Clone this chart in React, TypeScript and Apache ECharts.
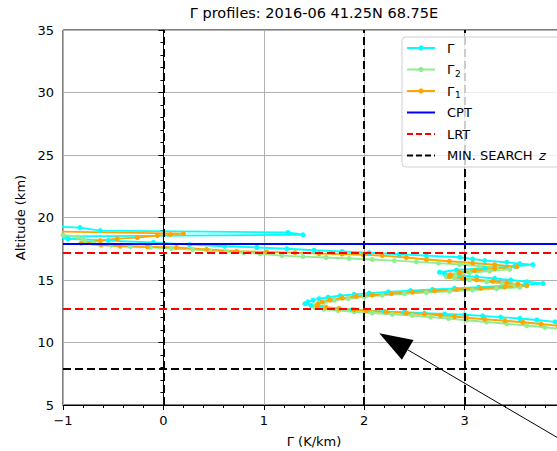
import React, { useEffect, useRef } from 'react';
import * as echarts from 'echarts';

const titleText = 'Γ profiles: 2016-06 41.25N 68.75E';
const FONT = "'DejaVu Sans', sans-serif";

// Lapse-rate profiles as [Γ (K/km), altitude (km)], ordered from top to bottom
const gammaProfile: [number, number][] = [
  [-1.5, 19.4], [-0.83, 19.19], [-0.63, 18.95], [1.24, 18.8], [1.39, 18.62], [-1.2, 18.48],
  [-0.95, 18.3], [-0.55, 18.15], [-0.1, 18.0], [0.26, 17.83], [0.61, 17.7], [0.93, 17.6],
  [1.23, 17.5], [1.5, 17.38], [1.78, 17.28], [2.05, 17.18], [2.35, 17.06], [2.62, 16.95],
  [2.95, 16.82], [3.08, 16.68], [3.2, 16.55], [3.42, 16.42], [3.55, 16.31], [3.68, 16.23],
  [3.5, 16.1], [3.2, 15.95], [2.92, 15.8], [2.75, 15.62], [2.8, 15.5], [2.95, 15.38],
  [3.12, 15.25], [3.3, 15.12], [3.46, 15.0], [3.62, 14.86], [3.78, 14.72], [3.6, 14.62],
  [3.38, 14.52], [3.14, 14.42], [2.9, 14.33], [2.68, 14.24], [2.46, 14.15], [2.24, 14.05],
  [2.05, 13.95], [1.9, 13.85], [1.76, 13.74], [1.64, 13.62], [1.55, 13.5], [1.49, 13.38],
  [1.44, 13.25], [1.41, 13.1], [1.47, 12.95], [1.58, 12.82], [1.75, 12.7], [1.88, 12.62],
  [2.02, 12.55], [2.2, 12.48], [2.4, 12.42], [2.6, 12.35], [2.8, 12.28], [3.0, 12.22],
  [3.18, 12.13], [3.36, 12.03], [3.55, 11.92], [3.72, 11.8], [3.9, 11.65], [4.1, 11.48],
  [4.4, 11.25], [4.9, 10.9],
];

const gamma2Profile: [number, number][] = [
  [-1.4, 18.9], [-1.0, 18.6], [-0.85, 18.42], [-0.8, 18.3], [-0.78, 18.15], [-0.7, 17.95],
  [-0.52, 17.8], [-0.33, 17.67], [-0.13, 17.62], [0.08, 17.52], [0.29, 17.43], [0.46, 17.35],
  [0.63, 17.27], [0.8, 17.18], [0.96, 17.1], [1.18, 16.95], [1.39, 16.87], [1.62, 16.8],
  [1.85, 16.72], [2.08, 16.64], [2.3, 16.55], [2.52, 16.45], [2.74, 16.35], [2.95, 16.24],
  [3.15, 16.12], [3.32, 16.0], [3.45, 15.85], [3.25, 15.72], [3.05, 15.58], [2.9, 15.42],
  [2.82, 15.25], [2.9, 15.12], [3.05, 15.0], [3.22, 14.86], [3.38, 14.72], [3.5, 14.58],
  [3.55, 14.42], [3.32, 14.3], [3.08, 14.2], [2.85, 14.1], [2.62, 14.0], [2.4, 13.9],
  [2.18, 13.78], [2.0, 13.65], [1.84, 13.52], [1.7, 13.38], [1.6, 13.22], [1.54, 13.05],
  [1.51, 12.9], [1.51, 12.78], [1.6, 12.66], [1.74, 12.56], [1.9, 12.46], [2.08, 12.36],
  [2.28, 12.26], [2.48, 12.16], [2.66, 12.04], [2.84, 11.92], [3.02, 11.78], [3.22, 11.64],
  [3.42, 11.5], [3.62, 11.36], [3.8, 11.22], [3.97, 11.08], [4.25, 10.85],
];

const gamma1Profile: [number, number][] = [
  [-1.4, 19.1], [-1.05, 18.87], [0.2, 18.71], [0.07, 18.63], [-0.06, 18.55], [-0.26, 18.39],
  [-0.46, 18.31], [-0.63, 18.15], [-0.82, 17.95], [-0.62, 17.8], [-0.43, 17.7], [-0.16, 17.66],
  [0.13, 17.6], [0.43, 17.45], [0.73, 17.3], [1.03, 17.25], [1.31, 17.19], [1.55, 17.12],
  [1.78, 17.07], [1.99, 17.02], [2.18, 16.95], [2.42, 16.8], [2.62, 16.64], [2.85, 16.5],
  [3.08, 16.36], [3.3, 16.22], [3.52, 16.07], [3.3, 15.92], [3.1, 15.76], [2.95, 15.6],
  [2.86, 15.42], [2.85, 15.27], [2.98, 15.14], [3.12, 15.02], [3.28, 14.9], [3.42, 14.78],
  [3.53, 14.66], [3.62, 14.54], [3.4, 14.44], [3.16, 14.34], [2.92, 14.24], [2.7, 14.14],
  [2.48, 14.03], [2.27, 13.92], [2.08, 13.8], [1.92, 13.68], [1.78, 13.55], [1.66, 13.4],
  [1.58, 13.25], [1.54, 13.1], [1.53, 12.94], [1.62, 12.82], [1.75, 12.72], [1.9, 12.62],
  [2.02, 12.54], [2.22, 12.45], [2.42, 12.36], [2.6, 12.27], [2.76, 12.18], [2.9, 12.08],
  [3.02, 11.98], [3.2, 11.86], [3.4, 11.74], [3.58, 11.62], [3.76, 11.48], [3.93, 11.34],
  [4.15, 11.15], [4.5, 10.85],
];

// Reference levels
const cptAltitude = 17.88;
const lrtAltitudes = [17.16, 12.67];
const minSearchAltitude = 7.88;
const minSearchGammas = [0, 2, 3];

// Axis ranges
const xRange = { min: -1, max: 4, interval: 1 };
const yRange = { min: 5, max: 35, interval: 5 };

// Annotation arrow, in data units
const arrowTip = [2.15, 10.75];
const arrowTail = [4.05, 1.8];

const legendItems = [
  { label: 'Γ', sub: '', color: '#00ffff', dash: null as number[] | null, marker: true },
  { label: 'Γ', sub: '2', color: '#90ee90', dash: null, marker: true },
  { label: 'Γ', sub: '1', color: '#ffa500', dash: null, marker: true },
  { label: 'CPT', sub: '', color: '#0000ff', dash: null, marker: false },
  { label: 'LRT', sub: '', color: '#ff0000', dash: [6, 3], marker: false },
  { label: 'MIN. SEARCH ', sub: 'z', color: '#000000', dash: [6, 3], marker: false },
];

const minus = (v: number) => (v < 0 ? '\u2212' + Math.abs(v) : String(v));

function profileSeries(name: string, data: [number, number][], color: string) {
  return {
    name,
    type: 'line',
    data,
    color,
    symbol: 'circle',
    symbolSize: 5,
    showSymbol: true,
    lineStyle: { width: 1.8, color },
    itemStyle: { color },
    clip: true,
    silent: true,
    z: 2,
  };
}

export default function App() {
  const ref = useRef<HTMLDivElement>(null);

  useEffect(() => {
    const chart = echarts.init(ref.current!, null, { renderer: 'svg' });
    const dashed = [8, 4];
    const markData: any[] = [
      ...minSearchGammas.map((g) => ({ xAxis: g, lineStyle: { color: '#000', width: 2, type: dashed } })),
      { yAxis: minSearchAltitude, lineStyle: { color: '#000', width: 2, type: dashed } },
      { yAxis: cptAltitude, lineStyle: { color: '#0000ff', width: 2, type: 'solid' } },
      ...lrtAltitudes.map((a) => ({ yAxis: a, lineStyle: { color: '#ff0000', width: 2, type: dashed } })),
    ];

    chart.setOption({
      animation: false,
      backgroundColor: '#ffffff',
      textStyle: { fontFamily: FONT },
      grid: {
        left: 63,
        top: 30,
        width: 502,
        height: 375,
        show: true,
        borderColor: '#000',
        borderWidth: 1,
        backgroundColor: '#fff',
        containLabel: false,
        outerBoundsMode: 'none',
      },
      xAxis: {
        type: 'value',
        ...xRange,
        name: 'Γ (K/km)',
        nameLocation: 'middle',
        nameGap: 30,
        nameTextStyle: { fontSize: 13, color: '#000', fontFamily: FONT },
        axisLine: { show: true, lineStyle: { color: '#000', width: 1 } },
        axisTick: { show: true, length: 5, lineStyle: { color: '#000' } },
        minorTick: { show: true, splitNumber: 5, length: 3, lineStyle: { color: '#000' } },
        axisLabel: {
          formatter: minus,
          fontSize: 13,
          color: '#000',
          margin: 9,
          fontFamily: FONT,
          showMaxLabel: false,
        },
        splitLine: { show: true, lineStyle: { color: '#b0b0b0', width: 1 } },
      },
      yAxis: {
        type: 'value',
        ...yRange,
        name: 'Altitude (km)',
        nameLocation: 'middle',
        nameGap: 33,
        nameTextStyle: { fontSize: 13, color: '#000', fontFamily: FONT },
        axisLine: { show: true, lineStyle: { color: '#000', width: 1 } },
        axisTick: { show: true, length: 5, lineStyle: { color: '#000' } },
        minorTick: { show: true, splitNumber: 5, length: 3, lineStyle: { color: '#000' } },
        axisLabel: { formatter: minus, fontSize: 13, color: '#000', margin: 9, fontFamily: FONT },
        splitLine: { show: true, lineStyle: { color: '#b0b0b0', width: 1 } },
      },
      series: [
        profileSeries('Γ', gammaProfile, '#00ffff'),
        profileSeries('Γ2', gamma2Profile, '#90ee90'),
        profileSeries('Γ1', gamma1Profile, '#ffa500'),
        {
          name: 'levels',
          type: 'line',
          data: [],
          silent: true,
          markLine: {
            silent: true,
            symbol: ['none', 'none'],
            label: { show: false },
            emphasis: { disabled: true },
            data: markData,
            z: 5,
          },
        },
      ],
    });

    // Arrow annotation
    const tip = chart.convertToPixel({ gridIndex: 0 }, arrowTip) as number[];
    const tail = chart.convertToPixel({ gridIndex: 0 }, arrowTail) as number[];
    const dx = tail[0] - tip[0];
    const dy = tail[1] - tip[1];
    const len = Math.hypot(dx, dy);
    const ux = dx / len;
    const uy = dy / len;
    const headLen = 33;
    const headHalf = 11.5;
    const base = [tip[0] + ux * headLen, tip[1] + uy * headLen];
    const c1 = [base[0] - uy * headHalf, base[1] + ux * headHalf];
    const c2 = [base[0] + uy * headHalf, base[1] - ux * headHalf];

    const graphics: any[] = [
      {
        type: 'text',
        x: 314,
        y: 13,
        z: 100,
        style: {
          text: titleText,
          fontSize: 14.5,
          fontFamily: FONT,
          fill: '#000',
          align: 'center',
          verticalAlign: 'middle',
        },
      },
      {
        type: 'line',
        z: 60,
        shape: { x1: tail[0], y1: tail[1], x2: base[0], y2: base[1] },
        style: { stroke: '#000', lineWidth: 1 },
      },
      {
        type: 'polygon',
        z: 60,
        shape: { points: [tip, c1, c2] },
        style: { fill: '#000' },
      },
      {
        type: 'rect',
        z: 100,
        shape: { x: 402, y: 37, width: 175, height: 130, r: 4 },
        style: { fill: 'rgba(255,255,255,0.8)', stroke: '#d0d0d0', lineWidth: 1 },
      },
    ];

    legendItems.forEach((it, i) => {
      const y = 48 + i * 21.5;
      graphics.push({
        type: 'line',
        z: 101,
        shape: { x1: 407, y1: y, x2: 435, y2: y },
        style: { stroke: it.color, lineWidth: 2, lineDash: it.dash || undefined },
      });
      if (it.marker) {
        graphics.push({
          type: 'circle',
          z: 102,
          shape: { cx: 421, cy: y, r: 2.6 },
          style: { fill: it.color },
        });
      }
      graphics.push({
        type: 'text',
        z: 102,
        x: 447,
        y,
        style: { text: it.label, fontSize: 13, fontFamily: FONT, fill: '#000', verticalAlign: 'middle' },
      });
      if (it.sub) {
        const italic = it.sub === 'z';
        const subX = italic ? 447 + 92 : 455;
        graphics.push({
          type: 'text',
          z: 102,
          x: subX,
          y: italic ? y : y + 4,
          style: {
            text: it.sub,
            fontSize: italic ? 13 : 9,
            fontStyle: italic ? 'italic' : 'normal',
            fontFamily: FONT,
            fill: '#000',
            verticalAlign: 'middle',
          },
        });
      }
    });

    chart.setOption({ graphic: graphics });

    return () => chart.dispose();
  }, []);

  return (
    <div
      ref={ref}
      style={{ position: 'absolute', left: 0, top: 0, width: 557, height: 451 }}
    />
  );
}
